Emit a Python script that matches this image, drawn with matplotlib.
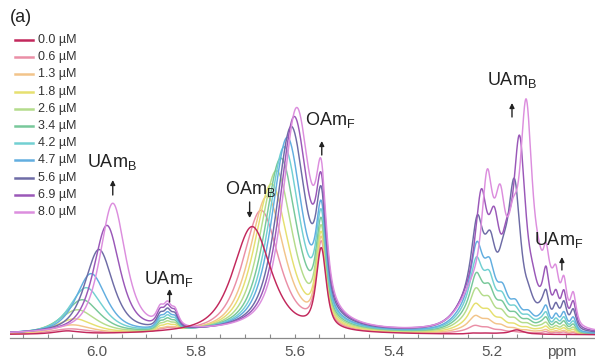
import numpy as np
import matplotlib.pyplot as plt
from matplotlib.lines import Line2D

plt.rcParams['font.family'] = ['Liberation Sans', 'DejaVu Sans']
plt.rcParams['mathtext.fontset'] = 'custom'
plt.rcParams['mathtext.rm'] = 'Liberation Sans'

# UAm titration, 1H NMR olefinic region
conc = [0.0, 0.6, 1.3, 1.8, 2.6, 3.4, 4.2, 4.7, 5.6, 6.9, 8.0]
colors = ['#c2285c', '#ea8fa6', '#f2c48a', '#e6e070', '#b4dc8c', '#78c89a',
          '#72d0d2', '#62aee0', '#6e6ca6', '#9a58b8', '#dc8ede']

# bound UAm =CH (around 6.0 ppm)
uamb1_pos = [6.060, 6.055, 6.050, 6.045, 6.040, 6.030, 6.022, 6.012, 5.996, 5.980, 5.968]
uamb1_h = [3, 5, 9, 15, 24, 34, 46, 60, 84, 108, 130]
uamb1_w = [0.030, 0.045, 0.045, 0.045, 0.045, 0.042, 0.040, 0.037, 0.034, 0.032, 0.031]

# free UAm =CH multiplet (5.86 ppm)
uamf1_lines = [5.872, 5.857, 5.842]
uamf1_rel = [0.8, 1.0, 0.8]
uamf1_h = [0, 2, 3, 5, 7, 9, 11, 13, 15, 17, 18]

# OAm =CH, exchange-averaged (bound) signal
oamb_pos = [5.686, 5.668, 5.656, 5.647, 5.637, 5.628, 5.621, 5.615, 5.607, 5.601, 5.596]
oamb_h = [108, 124, 138, 150, 163, 175, 186, 195, 205, 214, 222]
oamb_w = [0.046, 0.044, 0.042, 0.041, 0.040, 0.039, 0.038, 0.037, 0.036, 0.035, 0.034]

# free OAm =CH
oamf_pos = 5.546
oamf_h = [80, 84, 86, 88, 90, 92, 95, 98, 102, 106, 110]

# UAm =CH2 multiplet (5.1 - 5.25 ppm)
uam2_start = [5.235, 5.235, 5.234, 5.234, 5.233, 5.232, 5.232, 5.231, 5.230, 5.222, 5.210]
uam2_h = [1, 4, 9, 15, 23, 31, 40, 49, 65, 90, 115]
uam2_offsets = [0.0, 0.026, 0.052, 0.078, 0.104, 0.130]
uam2_rel = [1.0, 0.85, 0.6, 0.42, 0.28, 0.2]
uam2_broad_h = [0, 4, 8, 13, 19, 25, 30, 35, 40, 40, 38]
uamb2_pos = [5.150, 5.160, 5.160, 5.160, 5.160, 5.160, 5.160, 5.160, 5.156, 5.145, 5.131]
uamb2_h = [4, 0, 0, 0, 0, 0, 0, 0, 110, 138, 160]

# free UAm =CH2 lines
uamf2_lines = [5.091, 5.071, 5.055, 5.036]
uamf2_rel = [1.0, 0.8, 1.0, 0.8]
uamf2_h = [0, 2, 3, 5, 7, 10, 13, 17, 24, 31, 38]

ETA = 0.7


def pv(x, x0, h, w):
    u = (x - x0) / w
    return h * (ETA / (1 + u ** 2) + (1 - ETA) * np.exp(-np.log(2) * u ** 2))


ppm = np.linspace(4.99, 6.18, 3000)


def spectrum(i):
    y = pv(ppm, uamb1_pos[i], uamb1_h[i], uamb1_w[i])
    for p, r in zip(uamf1_lines, uamf1_rel):
        y += pv(ppm, p, uamf1_h[i] * r, 0.009)
    y += pv(ppm, oamb_pos[i], oamb_h[i], oamb_w[i])
    y += pv(ppm, oamf_pos, oamf_h[i], 0.012)
    for off, r in zip(uam2_offsets, uam2_rel):
        y += pv(ppm, uam2_start[i] - off, uam2_h[i] * r, 0.013)
    y += pv(ppm, 5.235, uam2_broad_h[i], 0.035)
    y += pv(ppm, uamb2_pos[i], uamb2_h[i], 0.015)
    for p, r in zip(uamf2_lines, uamf2_rel):
        y += pv(ppm, p, uamf2_h[i] * r, 0.007)
    return y


fig = plt.figure(figsize=(5.95, 3.62), dpi=100)
ax = fig.add_axes([10 / 595, 24 / 362, 585 / 595, 318 / 362])

for i in range(len(conc)):
    ax.plot(ppm, spectrum(i), color=colors[i], lw=1.05, zorder=3 + (i == 0) * 20)

ax.set_xlim(6.176, 4.992)
ax.set_ylim(-3, 315)
for s in ['top', 'left', 'right']:
    ax.spines[s].set_visible(False)
ax.spines['bottom'].set_color('#8a8a8a')
ax.spines['bottom'].set_linewidth(0.9)
ax.set_yticks([])
ax.set_xticks([6.0, 5.8, 5.6, 5.4, 5.2])
ax.set_xticklabels(['6.0', '5.8', '5.6', '5.4', '5.2'])
ax.set_xticks(np.arange(5.05, 6.16, 0.05), minor=True)
ax.tick_params(axis='x', which='both', direction='in', length=3, width=0.8,
               color='#8a8a8a', labelsize=11, labelcolor='#555555', pad=5)
ax.text(5.059, -17, 'ppm', ha='center', va='center', fontsize=11, color='#555555')

# peak labels with arrows
lab = dict(ha='center', va='center', fontsize=13, color='#222222')
arr = dict(arrowstyle='-|>', lw=1.0, color='#222222', mutation_scale=7, shrinkA=0, shrinkB=0)
ax.text(5.970, 173, 'UAm$_\\mathregular{B}$', **lab)
ax.annotate('', xy=(5.968, 155), xytext=(5.968, 140), arrowprops=arr)
ax.text(5.855, 56, 'UAm$_\\mathregular{F}$', **lab)
ax.annotate('', xy=(5.853, 46), xytext=(5.853, 33), arrowprops=arr)
ax.text(5.690, 146, 'OAm$_\\mathregular{B}$', **lab)
ax.annotate('', xy=(5.691, 117), xytext=(5.691, 133), arrowprops=arr)
ax.text(5.527, 215, 'OAm$_\\mathregular{F}$', **lab)
ax.annotate('', xy=(5.545, 194), xytext=(5.545, 180), arrowprops=arr)
ax.text(5.160, 255, 'UAm$_\\mathregular{B}$', **lab)
ax.annotate('', xy=(5.160, 232), xytext=(5.160, 218), arrowprops=arr)
ax.text(5.065, 95, 'UAm$_\\mathregular{F}$', **lab)
ax.annotate('', xy=(5.059, 78), xytext=(5.059, 65), arrowprops=arr)

# panel tag and concentration key
fig.text(10 / 595, 1 - 17 / 362, '(a)', ha='left', va='center', fontsize=13, color='#222222')
for i, c in enumerate(conc):
    yk = 1 - (40 + i * 17.2) / 362
    fig.add_artist(Line2D([15 / 595, 33 / 595], [yk, yk], color=colors[i], lw=1.8))
    fig.text(38 / 595, yk, f'{c:.1f} µM', ha='left', va='center', fontsize=9, color='#333333')

fig.savefig('out.png', dpi=100)
